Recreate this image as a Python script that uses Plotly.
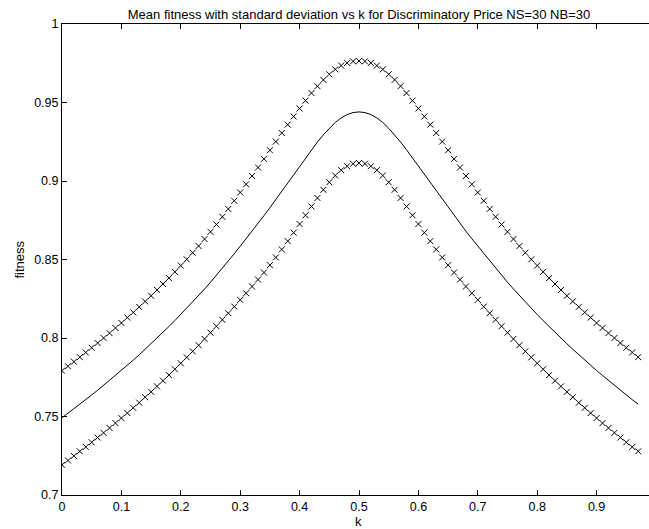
import numpy as np
import plotly.graph_objects as go

# k values 0:0.01:0.97
k = [round(i * 0.01, 2) for i in range(98)]

mean_fitness = [
    0.7492, 0.7520, 0.7549, 0.7578, 0.7607, 0.7637, 0.7667, 0.7698, 0.7729, 0.7761,
    0.7793, 0.7826, 0.7859, 0.7893, 0.7928, 0.7963, 0.7999, 0.8036, 0.8073, 0.8111,
    0.8150, 0.8189, 0.8229, 0.8270, 0.8312, 0.8355, 0.8399, 0.8444, 0.8490, 0.8537,
    0.8585, 0.8632, 0.8680, 0.8729, 0.8779, 0.8830, 0.8882, 0.8935, 0.8988, 0.9041,
    0.9094, 0.9147, 0.9199, 0.9248, 0.9294, 0.9336, 0.9373, 0.9402, 0.9423, 0.9436,
    0.9440, 0.9436, 0.9423, 0.9402, 0.9373, 0.9336, 0.9294, 0.9248, 0.9199, 0.9147,
    0.9094, 0.9041, 0.8988, 0.8935, 0.8882, 0.8830, 0.8779, 0.8729, 0.8680, 0.8632,
    0.8585, 0.8537, 0.8490, 0.8444, 0.8399, 0.8355, 0.8312, 0.8270, 0.8229, 0.8189,
    0.8150, 0.8111, 0.8073, 0.8036, 0.7999, 0.7963, 0.7928, 0.7893, 0.7859, 0.7826,
    0.7793, 0.7761, 0.7729, 0.7698, 0.7667, 0.7637, 0.7607, 0.7578,
]

std_fitness = [
    0.0300, 0.0300, 0.0300, 0.0300, 0.0301, 0.0301, 0.0301, 0.0302, 0.0302, 0.0303,
    0.0303, 0.0304, 0.0304, 0.0305, 0.0305, 0.0306, 0.0307, 0.0308, 0.0309, 0.0310,
    0.0311, 0.0312, 0.0314, 0.0316, 0.0318, 0.0321, 0.0324, 0.0328, 0.0332, 0.0337,
    0.0342, 0.0347, 0.0352, 0.0357, 0.0362, 0.0366, 0.0369, 0.0371, 0.0371, 0.0370,
    0.0368, 0.0365, 0.0361, 0.0356, 0.0350, 0.0344, 0.0338, 0.0333, 0.0329, 0.0326,
    0.0325, 0.0326, 0.0329, 0.0333, 0.0338, 0.0344, 0.0350, 0.0356, 0.0361, 0.0365,
    0.0368, 0.0370, 0.0371, 0.0371, 0.0369, 0.0366, 0.0362, 0.0357, 0.0352, 0.0347,
    0.0342, 0.0337, 0.0332, 0.0328, 0.0324, 0.0321, 0.0318, 0.0316, 0.0314, 0.0312,
    0.0311, 0.0310, 0.0309, 0.0308, 0.0307, 0.0306, 0.0305, 0.0305, 0.0304, 0.0304,
    0.0303, 0.0303, 0.0302, 0.0302, 0.0301, 0.0301, 0.0301, 0.0300,
]

x_ticks = [0, 0.1, 0.2, 0.3, 0.4, 0.5, 0.6, 0.7, 0.8, 0.9]
x_tick_labels = ["0", "0.1", "0.2", "0.3", "0.4", "0.5", "0.6", "0.7", "0.8", "0.9"]
y_ticks = [0.7, 0.75, 0.8, 0.85, 0.9, 0.95, 1.0]
y_tick_labels = ["0.7", "0.75", "0.8", "0.85", "0.9", "0.95", "1"]

mean_arr = np.array(mean_fitness)
std_arr = np.array(std_fitness)
upper = mean_arr + std_arr
lower = mean_arr - std_arr

FONT = "Liberation Sans, Arial, Helvetica, sans-serif"
TICK_SIZE = 12.5
LABEL_SIZE = 13
TITLE_SIZE = 13

fig = go.Figure()
marker_style = dict(symbol="x-thin-open", size=6, color="black",
                    line=dict(color="black", width=1))
fig.add_trace(go.Scatter(x=k, y=upper, mode="markers", marker=marker_style,
                         showlegend=False, hoverinfo="skip"))
fig.add_trace(go.Scatter(x=k, y=mean_arr, mode="lines",
                         line=dict(color="black", width=1),
                         showlegend=False, hoverinfo="skip"))
fig.add_trace(go.Scatter(x=k, y=lower, mode="markers", marker=marker_style,
                         showlegend=False, hoverinfo="skip"))

W, H = 649, 529
L, R, T, B = 62, 0, 24, 34
PX_PER_UNIT_X = 594.0
# right part of the MATLAB axes is cropped off; axes would end at x=1 (~656 px)
x_right = (W - L) / PX_PER_UNIT_X
plot_h = H - T - B

fig.update_layout(
    width=W, height=H,
    margin=dict(l=L, r=R, t=T, b=B, pad=0),
    paper_bgcolor="white", plot_bgcolor="white",
    font=dict(family=FONT, size=TICK_SIZE, color="black"),
    title=dict(text="Mean fitness with standard deviation vs k for Discriminatory Price NS=30 NB=30",
               x=(L + 0.5 * PX_PER_UNIT_X) / W, xanchor="center", xref="container",
               y=1 - 14 / H, yanchor="middle", yref="container",
               font=dict(family=FONT, size=TITLE_SIZE, color="black")),
    xaxis=dict(range=[0, x_right], tickmode="array", tickvals=x_ticks, ticktext=x_tick_labels,
               ticks="inside", ticklen=5, tickwidth=1, tickcolor="black",
               showline=True, linecolor="black", linewidth=1, mirror="ticks",
               showgrid=False, zeroline=False,
               tickfont=dict(family=FONT, size=TICK_SIZE, color="black")),
    yaxis=dict(range=[0.7, 1.0], tickmode="array", tickvals=y_ticks, ticktext=y_tick_labels,
               ticks="inside", ticklen=5, tickwidth=1, tickcolor="black",
               showline=True, linecolor="black", linewidth=1, mirror=False,
               showgrid=False, zeroline=False,
               tickfont=dict(family=FONT, size=TICK_SIZE, color="black")),
    annotations=[
        dict(text="k", xref="paper", yref="paper",
             x=0.5 * PX_PER_UNIT_X / (W - L), y=-(521.5 - (H - B)) / plot_h,
             xanchor="center", yanchor="middle", showarrow=False,
             font=dict(family=FONT, size=LABEL_SIZE, color="black")),
        dict(text="fitness", xref="paper", yref="paper", x=-(L - 19) / (W - L), y=0.5,
             xanchor="center", yanchor="middle", showarrow=False, textangle=-90,
             font=dict(family=FONT, size=LABEL_SIZE, color="black")),
    ],
)

fig.write_html(
    "out.html",
    config={"displayModeBar": False, "staticPlot": True},
    post_script="document.body.style.margin='0';document.body.style.padding='0';"
                "document.body.style.overflow='hidden';",
)
